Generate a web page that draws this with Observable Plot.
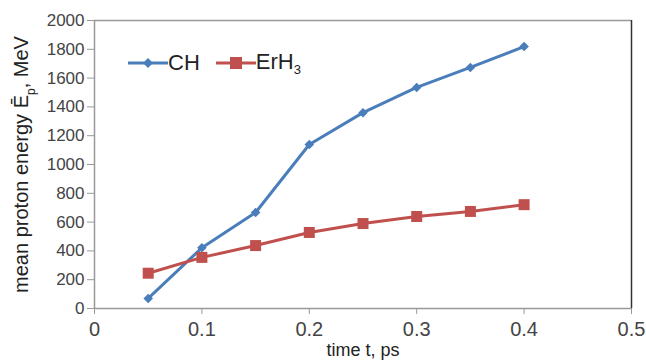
<!DOCTYPE html>
<html><head><meta charset="utf-8">
<script src="https://cdn.jsdelivr.net/npm/d3@7"></script>
<script src="https://cdn.jsdelivr.net/npm/@observablehq/plot@0.6"></script>
<style>
body{margin:0;background:#fff;font-family:"Liberation Sans",Arial,sans-serif;}
#wrap{position:relative;width:646px;height:362px;}
#legend{position:absolute;left:128px;top:49px;display:flex;align-items:center;font-size:22px;color:#222;}
#legend .item{display:flex;align-items:center;margin-right:16px;}
#legend sub{font-size:13px;vertical-align:-5px;}
</style></head><body>
<div id="wrap"><div id="chart"></div>
<div id="legend"></div></div>
<script>
const times = [0.05, 0.10, 0.15, 0.20, 0.25, 0.30, 0.35, 0.40];
const chValues = [70, 422, 667, 1139, 1360, 1535, 1674, 1819];
const erh3Values = [245, 355, 437, 528, 590, 639, 674, 721];
const xTicks = [0, 0.1, 0.2, 0.3, 0.4, 0.5];
const yTicks = [0, 200, 400, 600, 800, 1000, 1200, 1400, 1600, 1800, 2000];
const seriesNames = ["CH", "ErH3"];
const colors = ["#4a7ebb", "#c0504d"];
const xLabel = "time t, ps";
const yLabel = "mean proton energy Ēp, MeV";

const data = [];
times.forEach((t, i) => {
  data.push({t, v: chValues[i], s: seriesNames[0]});
  data.push({t, v: erh3Values[i], s: seriesNames[1]});
});
const ch = data.filter(d => d.s === "CH");
const er = data.filter(d => d.s === "ErH3");

const chart = Plot.plot({
  width: 646, height: 362,
  marginLeft: 94, marginRight: 15, marginTop: 20, marginBottom: 54,
  style: {fontFamily: "Liberation Sans, Arial, sans-serif", color: "#444", background: "#fff"},
  x: {domain: [0, 0.5]},
  y: {domain: [0, 2000]},
  marks: [
    Plot.ruleY([2000], {stroke: "#999", strokeWidth: 1.5}),
    Plot.ruleX([0.5], {stroke: "#333", strokeWidth: 1.5}),
    Plot.ruleX([0], {stroke: "#999", strokeWidth: 1.5}),
    Plot.ruleY([0], {stroke: "#999", strokeWidth: 1.5}),
    Plot.axisX({ticks: xTicks, tickFormat: d => d === 0 ? "0" : String(d), fontSize: 20, tickSize: 6, tickPadding: 7, stroke: "#999", strokeOpacity: 1, label: null}),
    Plot.axisY({ticks: yTicks, tickFormat: d3.format("d"), fontSize: 17, tickSize: 7, tickPadding: 3, stroke: "#999", strokeOpacity: 1, label: null}),
    Plot.axisX({ticks: [], label: xLabel, labelAnchor: "center", labelOffset: 47, labelArrow: "none", tickSize: 0}),
    Plot.axisY({ticks: [], label: yLabel, labelAnchor: "center", labelOffset: 81, labelArrow: "none", tickSize: 0}),
    Plot.line(ch, {x: "t", y: "v", stroke: colors[0], strokeWidth: 3}),
    Plot.line(er, {x: "t", y: "v", stroke: colors[1], strokeWidth: 3}),
    Plot.dot(ch, {x: "t", y: "v", symbol: "diamond2", r: 4.3, fill: colors[0], stroke: "none"}),
    Plot.dot(er, {x: "t", y: "v", symbol: "square2", r: 7, fill: colors[1], stroke: "none"})
  ]
});
document.getElementById("chart").appendChild(chart);

// clean arrows, set sizes, add subscript in y label
d3.select(chart).selectAll("text").each(function() {
  const el = d3.select(this);
  const aria = (this.parentNode && this.parentNode.getAttribute && this.parentNode.getAttribute("aria-label")) || "";
  let t = el.text();
  if (t.includes(xLabel) && t !== xLabel) el.text(xLabel);
  t = el.text();
  if (t.includes(yLabel)) {
    el.text(null).attr("fill", "#222").style("font-size", "20px");
    el.append("tspan").text("mean proton energy Ē");
    el.append("tspan").attr("baseline-shift", "sub").style("font-size", "12px").text("p");
    el.append("tspan").text(", MeV");
  } else if (t === xLabel) {
    el.attr("fill", "#222").style("font-size", "18px");
  } else if (aria.startsWith("x-axis tick label")) {
    el.style("font-size", "20px");
  } else if (aria.startsWith("y-axis tick label")) {
    el.style("font-size", "17px");
  }
});

// legend
const leg = document.getElementById("legend");
seriesNames.forEach((name, i) => {
  const item = document.createElement("div");
  item.className = "item";
  const sw = i === 0
    ? `<svg width="40" height="14"><line x1="0" y1="7" x2="40" y2="7" stroke="${colors[0]}" stroke-width="3"/><path d="M20 2 L25 7 L20 12 L15 7Z" fill="${colors[0]}"/></svg>`
    : `<svg width="40" height="14"><line x1="0" y1="7" x2="40" y2="7" stroke="${colors[1]}" stroke-width="3"/><rect x="14" y="1" width="12" height="12" fill="${colors[1]}"/></svg>`;
  const label = name === "ErH3" ? "ErH<sub>3</sub>" : name;
  item.innerHTML = sw + `<span>${label}</span>`;
  leg.appendChild(item);
});
</script>
</body></html>
